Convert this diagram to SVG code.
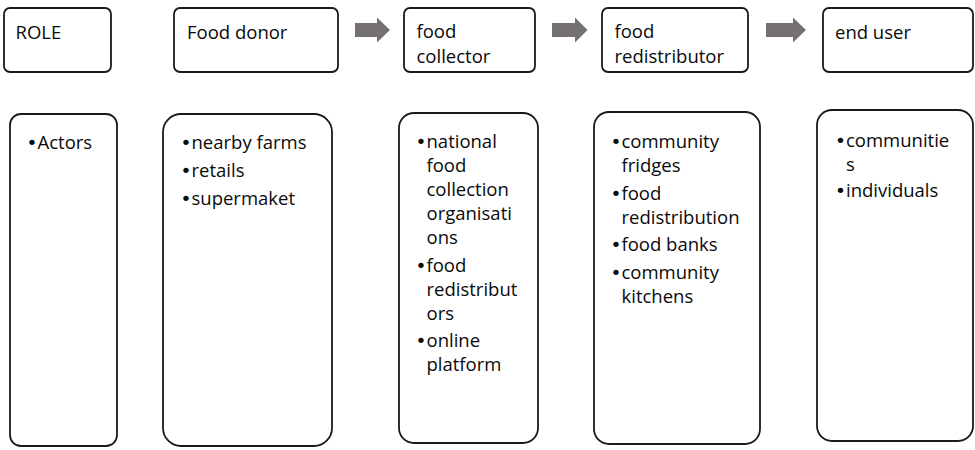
<svg xmlns="http://www.w3.org/2000/svg" width="975" height="450" viewBox="0 0 975 450">
  <style>
    .box { fill: #ffffff; stroke: #1a1a1a; stroke-width: 1.8; }
    .t { font-family: "Open Sans", "Liberation Sans", sans-serif; font-size: 18.5px; fill: #0a0a0a; }
    .b { font-family: "DejaVu Sans", sans-serif; }
    .flow { fill: #767171; }
  </style>
  <rect width="975" height="450" fill="#ffffff"/>

  <!-- flow arrows between the stage headers -->
  <g id="connectors">
    <polygon class="flow" points="355,23 377,23 377,17.5 390,30 377,42.5 377,37 355,37"/>
    <polygon class="flow" points="552,23 575,23 575,17.5 587.5,30 575,42.5 575,37 552,37"/>
    <polygon class="flow" points="766,23 793,23 793,17.5 806,30 793,42.5 793,37 766,37"/>
  </g>

  <!-- stage headers -->
  <g id="role-header">
    <rect class="box" x="4" y="8" width="107" height="64" rx="6"/>
    <text class="t" x="15.5" y="39.3">ROLE</text>
  </g>
  <g id="donor-header">
    <rect class="box" x="174" y="8" width="164" height="64" rx="6"/>
    <text class="t" x="187" y="39.3">Food donor</text>
  </g>
  <g id="collector-header">
    <rect class="box" x="404" y="8" width="131" height="64" rx="6"/>
    <text class="t" x="416.5" y="38.3">food</text>
    <text class="t" x="416.5" y="63.3">collector</text>
  </g>
  <g id="redistributor-header">
    <rect class="box" x="602" y="8" width="146" height="64" rx="6"/>
    <text class="t" x="614.5" y="38.3">food</text>
    <text class="t" x="614.5" y="63.3">redistributor</text>
  </g>
  <g id="enduser-header">
    <rect class="box" x="823" y="8" width="150" height="64" rx="6"/>
    <text class="t" x="835" y="39.3">end user</text>
  </g>

  <!-- actor lists: bullet and first line share one text element -->
  <g id="role-actors">
    <rect class="box" x="10" y="114" width="107" height="332" rx="11"/>
    <text class="t" x="26.5" y="149"><tspan class="b">•</tspan><tspan x="37.5">Actors</tspan></text>
  </g>
  <g id="donor-actors">
    <rect class="box" x="163" y="114" width="169" height="332" rx="18"/>
    <text class="t" x="180.5" y="149"><tspan class="b">•</tspan><tspan x="191.5">nearby farms</tspan></text>
    <text class="t" x="180.5" y="177"><tspan class="b">•</tspan><tspan x="191.5">retails</tspan></text>
    <text class="t" x="180.5" y="205"><tspan class="b">•</tspan><tspan x="191.5">supermaket</tspan></text>
  </g>
  <g id="collector-actors">
    <rect class="box" x="399" y="113" width="139" height="330" rx="15"/>
    <text class="t" x="415.5" y="148"><tspan class="b">•</tspan><tspan x="426.5">national</tspan></text>
    <text class="t" x="426.5" y="172">food</text>
    <text class="t" x="426.5" y="196">collection</text>
    <text class="t" x="426.5" y="220">organisati</text>
    <text class="t" x="426.5" y="244">ons</text>
    <text class="t" x="415.5" y="271.5"><tspan class="b">•</tspan><tspan x="426.5">food</tspan></text>
    <text class="t" x="426.5" y="295.5">redistribut</text>
    <text class="t" x="426.5" y="319.5">ors</text>
    <text class="t" x="415.5" y="347"><tspan class="b">•</tspan><tspan x="426.5">online</tspan></text>
    <text class="t" x="426.5" y="371">platform</text>
  </g>
  <g id="redistributor-actors">
    <rect class="box" x="594" y="112" width="166" height="332" rx="15"/>
    <text class="t" x="610.5" y="148"><tspan class="b">•</tspan><tspan x="621.5">community</tspan></text>
    <text class="t" x="621.5" y="172">fridges</text>
    <text class="t" x="610.5" y="199.5"><tspan class="b">•</tspan><tspan x="621.5">food</tspan></text>
    <text class="t" x="621.5" y="223.5">redistribution</text>
    <text class="t" x="610.5" y="251"><tspan class="b">•</tspan><tspan x="621.5">food banks</tspan></text>
    <text class="t" x="610.5" y="278.5"><tspan class="b">•</tspan><tspan x="621.5">community</tspan></text>
    <text class="t" x="621.5" y="302.5">kitchens</text>
  </g>
  <g id="enduser-actors">
    <rect class="box" x="817" y="110" width="156" height="331" rx="15"/>
    <text class="t" x="835" y="147"><tspan class="b">•</tspan><tspan x="846">communitie</tspan></text>
    <text class="t" x="846" y="171">s</text>
    <text class="t" x="835" y="197"><tspan class="b">•</tspan><tspan x="846">individuals</tspan></text>
  </g>
</svg>
